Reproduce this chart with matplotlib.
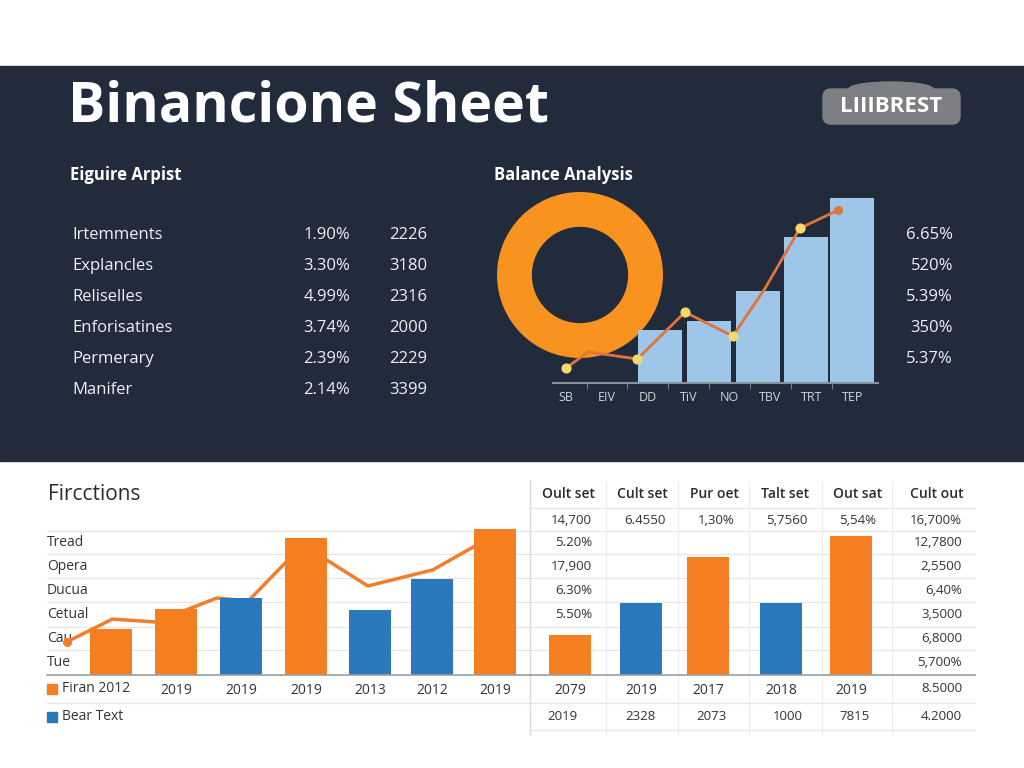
import matplotlib.pyplot as plt
from matplotlib.patches import Rectangle, FancyBboxPatch, Ellipse
import numpy as np

plt.rcParams['font.family'] = ['Open Sans', 'DejaVu Sans']

# ---- data ----
left_rows = ['Irtemments', 'Explancles', 'Reliselles', 'Enforisatines', 'Permerary', 'Manifer']
left_pct = ['1.90%', '3.30%', '4.99%', '3.74%', '2.39%', '2.14%']
left_num = ['2226', '3180', '2316', '2000', '2229', '3399']

top_cats = ['SB', 'EIV', 'DD', 'TiV', 'NO', 'TBV', 'TRT', 'TEP']
top_bar_x = [2.3, 3.5, 4.7, 5.87, 7.0]
top_bar_h = [1.41, 1.65, 2.45, 3.89, 4.93]
top_line_x = [0.0, 0.54, 1.74, 2.91, 4.08, 4.87, 5.72, 6.65]
top_line_y = [0.40, 0.83, 0.64, 1.89, 1.25, 2.53, 4.13, 4.61]
top_marked = [0, 2, 3, 4, 6]
right_pct = ['6.65%', '520%', '5.39%', '350%', '5.37%']
donut_vals = [100]

bot_rows = ['Tread', 'Opera', 'Ducua', 'Cetual', 'Cau', 'Tue']
bot_x = [1, 2, 3, 4, 4.98, 5.94, 6.91, 8.06, 9.15, 10.18, 11.31, 12.38]
bot_h = [1.9, 2.75, 3.2, 5.7, 2.7, 4.0, 6.1, 1.65, 3.0, 4.9, 3.0, 5.8]
bot_series = ['o', 'o', 'b', 'o', 'b', 'b', 'o', 'o', 'b', 'o', 'b', 'o']
bot_labels = ['', '2019', '2019', '2019', '2013', '2012', '2019', '2079', '2019', '2017', '2018', '2019']
bot_line_x = [0.32, 1.02, 1.68, 2.63, 3.11, 3.68, 4.32, 4.95, 5.95, 6.57]
bot_line_y = [1.38, 2.33, 2.21, 3.21, 3.08, 4.67, 4.79, 3.71, 4.38, 5.33]

tbl_headers = ['Oult set', 'Cult set', 'Pur oet', 'Talt set', 'Out sat', 'Cult out']
tbl_row1 = ['14,700', '6.4550', '1,30%', '5,7560', '5,54%', '16,700%']
tbl_col1 = ['5.20%', '17,900', '6.30%', '5.50%']
tbl_col6 = ['12,7800', '2,5500', '6,40%', '3,5000', '6,8000', '5,700%']
tbl_last1 = '8.5000'
tbl_row2 = ['2019', '2328', '2073', '1000', '7815', '4.2000']

NAVY = '#222b3b'
ORANGE = '#f57f20'
BLUE = '#2b79bd'
LIGHTBLUE = '#9dc6e8'

fig = plt.figure(figsize=(10.24, 7.68), dpi=100)
fig.patch.set_facecolor('white')

bg = fig.add_axes([0, 0, 1, 1], zorder=0)
bg.set_xlim(0, 1024)
bg.set_ylim(768, 0)
bg.axis('off')

bg.add_patch(Rectangle((0, 66), 1024, 395, color=NAVY))
bg.text(68, 107, 'Binancione Sheet', color='white', fontsize=40, fontweight='bold', va='center')

# logo
bg.add_patch(Ellipse((891, 89), 84, 14, color='#7d7f83'))
bg.add_patch(FancyBboxPatch((823, 89), 137, 35, boxstyle='round,pad=0,rounding_size=8', color='#7d7f83'))
bg.text(891, 106, 'LIIIBREST', color='white', fontsize=16, fontweight='bold', ha='center', va='center')

bg.text(70, 175, 'Eiguire Arpist', color='white', fontsize=12, fontweight='bold', va='center')
bg.text(494, 175, 'Balance Analysis', color='white', fontsize=12, fontweight='bold', va='center')

for i, (lab, p, n) in enumerate(zip(left_rows, left_pct, left_num)):
    y = 235 + i * 31
    bg.text(72, y, lab, color='#eef0f3', fontsize=12, va='center')
    bg.text(350, y, p, color='#eef0f3', fontsize=12, va='center', ha='right')
    bg.text(427, y, n, color='#eef0f3', fontsize=12, va='center', ha='right')

for i, p in enumerate(right_pct):
    bg.text(953, 235 + i * 31, p, color='#eef0f3', fontsize=12, va='center', ha='right')

# bottom section decorations
bg.text(48, 494, 'Fircctions', color='#2b2b2b', fontsize=15, va='center')
grid_c = '#e4e6e9'
for y in [531, 554, 578, 602, 627, 650, 703]:
    bg.plot([47, 975], [y, y], color=grid_c, lw=0.9)
for y in [508, 730]:
    bg.plot([530, 975], [y, y], color=grid_c, lw=0.9)
for x in [606, 678, 749, 822, 892]:
    bg.plot([x, x], [482, 735], color='#eceef0', lw=0.9)
bg.plot([530, 530], [480, 735], color='#d8dadd', lw=1)

for i, lab in enumerate(bot_rows):
    bg.text(47, 542 + i * 24, lab, color='#333333', fontsize=10, va='center')

hdr_x = [568, 642, 714, 785, 858, 937]
for x, h in zip(hdr_x, tbl_headers):
    bg.text(x, 494, h, color='#2b2b2b', fontsize=10, va='center', ha='center', fontweight='semibold')
for x, v in zip([592, 645, 716, 787, 858, 962], tbl_row1):
    ha = 'right' if x in (592, 962) else 'center'
    bg.text(x, 520, v, color='#333333', fontsize=9.5, va='center', ha=ha)
for i, v in enumerate(tbl_col1):
    bg.text(592, 543 + i * 24, v, color='#333333', fontsize=9.5, va='center', ha='right')
for i, v in enumerate(tbl_col6):
    bg.text(962, 543 + i * 24, v, color='#333333', fontsize=9.5, va='center', ha='right')
bg.text(962, 689, tbl_last1, color='#333333', fontsize=9.5, va='center', ha='right')
for x, v in zip([562, 640, 711, 788, 855, 962], tbl_row2):
    ha = 'right' if x == 962 else 'center'
    bg.text(x, 717, v, color='#333333', fontsize=9.5, va='center', ha=ha)

# legend
bg.add_patch(Rectangle((47, 684), 10, 10, color=ORANGE))
bg.text(62, 689, 'Firan 2012', color='#333333', fontsize=10, va='center')
bg.add_patch(Rectangle((47, 712), 10, 10, color=BLUE))
bg.text(62, 717, 'Bear Text', color='#333333', fontsize=10, va='center')


def fig_rect(x0, y0, x1, y1):
    return [x0 / 1024, 1 - y1 / 768, (x1 - x0) / 1024, (y1 - y0) / 768]


# donut
ax_d = fig.add_axes(fig_rect(497, 192, 663, 358), zorder=1)
ax_d.pie(donut_vals, colors=['#f7931e'], startangle=90,
         wedgeprops=dict(width=0.42, linewidth=0))
ax_d.set_xlim(-1, 1)
ax_d.set_ylim(-1, 1)
ax_d.set_aspect('equal')

# top bar chart
ax_t = fig.add_axes(fig_rect(553, 190, 878, 383), zorder=2)
ax_t.patch.set_alpha(0)
ax_t.bar(top_bar_x, top_bar_h, width=1.07, color=LIGHTBLUE, zorder=2)
ax_t.plot(top_line_x, top_line_y, color='#e0743a', lw=2, zorder=3)
ax_t.scatter([top_line_x[i] for i in top_marked], [top_line_y[i] for i in top_marked],
             s=40, color='#f6d96b', zorder=4)
ax_t.scatter([top_line_x[-1]], [top_line_y[-1]], s=30, color='#e0743a', zorder=4)
ax_t.set_xlim(-0.32, 7.63)
ax_t.set_ylim(0, 5.15)
ax_t.set_xticks(range(len(top_cats)))
ax_t.set_xticklabels(top_cats, color='#d0d4da', fontsize=9)
ax_t.set_xticks(np.arange(0.5, 7, 1.0), minor=True)
ax_t.tick_params(axis='x', which='major', length=0, pad=6)
ax_t.tick_params(axis='x', which='minor', length=4, color='#8a909a')
ax_t.set_yticks([])
for s in ['top', 'right', 'left']:
    ax_t.spines[s].set_visible(False)
ax_t.spines['bottom'].set_color('#8a909a')
ax_t.spines['bottom'].set_linewidth(1.5)

# bottom bar chart
ax_b = fig.add_axes(fig_rect(47, 515, 975, 675), zorder=2)
ax_b.patch.set_alpha(0)
ax_b.plot(bot_line_x, bot_line_y, color='#f07e2b', lw=2.5, zorder=1)
ax_b.scatter([bot_line_x[0]], [bot_line_y[0]], s=30, color='#f07e2b', zorder=1)
ax_b.bar(bot_x, bot_h, width=0.65,
         color=[ORANGE if s == 'o' else BLUE for s in bot_series], zorder=2)
ax_b.set_xlim(0.015, 14.29)
ax_b.set_ylim(0, 160 / 24)
ax_b.set_xticks(bot_x)
ax_b.set_xticklabels(bot_labels, color='#333333', fontsize=10)
ax_b.tick_params(axis='x', length=0, pad=6)
ax_b.set_yticks([])
for s in ['top', 'right', 'left']:
    ax_b.spines[s].set_visible(False)
ax_b.spines['bottom'].set_color('#9a9ea4')
ax_b.spines['bottom'].set_linewidth(1.2)

fig.savefig('out.png', dpi=100)
